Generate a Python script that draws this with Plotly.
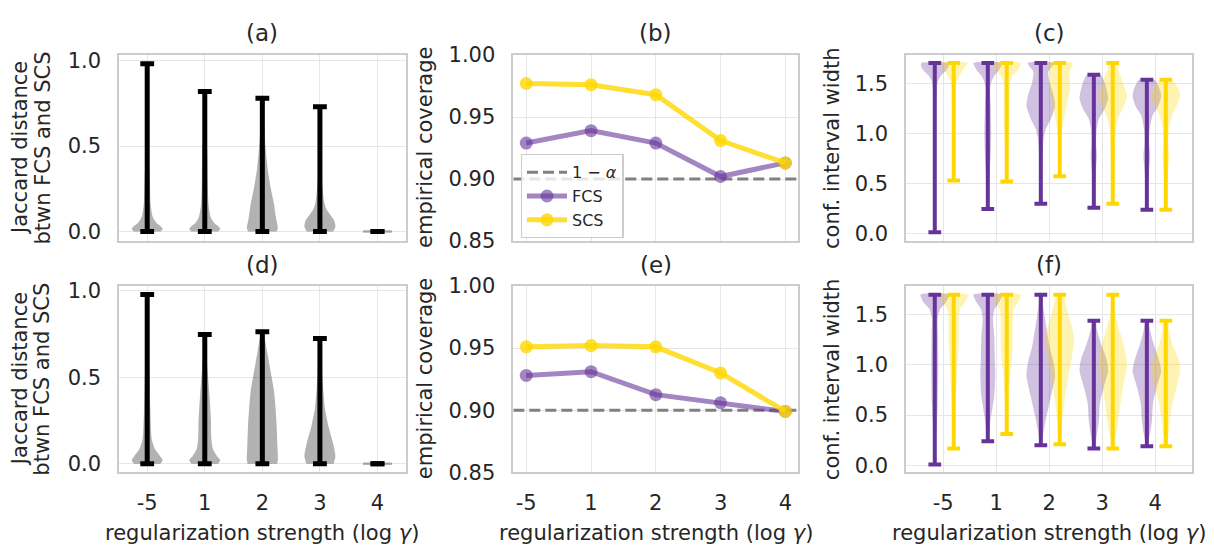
import plotly.graph_objects as go

# ---------------- data ----------------
gamma_labels = ["-5", "1", "2", "3", "4"]
positions = [0, 1, 2, 3, 4]
alpha_level = 0.9

# (b) / (e) empirical coverage
cov_fcs_top = [0.929, 0.939, 0.929, 0.902, 0.913]
cov_scs_top = [0.977, 0.976, 0.968, 0.931, 0.913]
cov_fcs_bot = [0.928, 0.931, 0.9125, 0.906, 0.899]
cov_scs_bot = [0.951, 0.952, 0.951, 0.930, 0.899]

# (a) / (d) Jaccard distance extrema
jac_top_min = [0.0, 0.0, 0.0, 0.0, 0.0]
jac_top_max = [0.982, 0.820, 0.780, 0.731, 0.0]
jac_bot_min = [0.0, 0.0, 0.0, 0.0, 0.0]
jac_bot_max = [0.977, 0.746, 0.762, 0.723, 0.0]

# (a) / (d) density profiles (levels, relative half width)
jac_top_levels = [
    [0, 0.015, 0.03, 0.05, 0.085, 0.16, 0.3, 0.45, 0.7, 0.982],
    [0, 0.015, 0.03, 0.05, 0.085, 0.16, 0.3, 0.45, 0.6, 0.82],
    [0, 0.02, 0.08, 0.16, 0.25, 0.36, 0.5, 0.63, 0.78],
    [0, 0.03, 0.065, 0.1, 0.13, 0.17, 0.25, 0.35, 0.5, 0.731],
    [0],
]
jac_top_widths = [
    [0.85, 1.0, 0.88, 0.6, 0.36, 0.22, 0.17, 0.1, 0.04, 0.0],
    [0.85, 1.0, 0.88, 0.6, 0.38, 0.24, 0.19, 0.17, 0.08, 0.0],
    [0.92, 1.0, 0.88, 0.75, 0.55, 0.35, 0.2, 0.1, 0.02],
    [0.85, 1.0, 0.92, 0.65, 0.42, 0.28, 0.18, 0.1, 0.04, 0.0],
    [1.0],
]
jac_bot_levels = [
    [0, 0.02, 0.045, 0.085, 0.14, 0.32, 0.5, 0.65, 0.8, 0.977],
    [0, 0.02, 0.045, 0.085, 0.15, 0.25, 0.4, 0.55, 0.65, 0.746],
    [0, 0.025, 0.1, 0.22, 0.32, 0.42, 0.5, 0.57, 0.65, 0.762],
    [0, 0.045, 0.125, 0.22, 0.32, 0.42, 0.51, 0.61, 0.723],
    [0],
]
jac_bot_widths = [
    [0.85, 1.0, 0.82, 0.5, 0.3, 0.2, 0.15, 0.08, 0.03, 0.0],
    [0.85, 1.0, 0.78, 0.52, 0.42, 0.4, 0.3, 0.17, 0.08, 0.0],
    [0.95, 1.0, 0.97, 0.92, 0.85, 0.75, 0.6, 0.46, 0.3, 0.05],
    [0.88, 1.0, 0.83, 0.54, 0.32, 0.22, 0.15, 0.08, 0.0],
    [1.0],
]

# (c) / (f) confidence interval width extrema
wid_fcs_top_min = [0.017, 0.25, 0.303, 0.263, 0.243]
wid_fcs_top_max = [1.707, 1.707, 1.707, 1.59, 1.54]
wid_scs_top_min = [0.533, 0.523, 0.577, 0.303, 0.243]
wid_scs_top_max = [1.707, 1.707, 1.707, 1.707, 1.54]
wid_fcs_bot_min = [0.007, 0.24, 0.20, 0.167, 0.19]
wid_fcs_bot_max = [1.70, 1.70, 1.70, 1.44, 1.44]
wid_scs_bot_min = [0.167, 0.313, 0.21, 0.167, 0.19]
wid_scs_bot_max = [1.70, 1.70, 1.70, 1.70, 1.44]

# (c) / (f) density profiles
wid_fcs_top_levels = [
    [0.017, 0.5, 1.0, 1.3, 1.45, 1.52, 1.58, 1.63, 1.67, 1.707],
    [0.25, 0.5, 0.78, 1.0, 1.28, 1.45, 1.52, 1.58, 1.63, 1.707],
    [0.303, 0.6, 0.95, 1.05, 1.15, 1.28, 1.38, 1.52, 1.62, 1.707],
    [0.263, 0.5, 0.65, 0.78, 0.92, 1.05, 1.15, 1.25, 1.35, 1.48, 1.59],
    [0.243, 0.45, 0.62, 0.78, 0.92, 1.05, 1.18, 1.28, 1.38, 1.45, 1.54],
]
wid_fcs_top_widths = [
    [0.0, 0.05, 0.08, 0.1, 0.14, 0.2, 0.42, 0.77, 0.95, 0.95],
    [0.0, 0.08, 0.2, 0.24, 0.2, 0.16, 0.25, 0.45, 0.75, 1.0],
    [0.0, 0.08, 0.19, 0.36, 0.71, 1.0, 0.9, 0.6, 0.52, 0.93],
    [0.0, 0.08, 0.15, 0.22, 0.15, 0.2, 0.36, 0.76, 1.0, 0.83, 0.48],
    [0.0, 0.08, 0.15, 0.24, 0.16, 0.2, 0.39, 0.8, 1.0, 0.89, 0.54],
]
wid_scs_top_levels = [
    [0.533, 0.8, 1.2, 1.45, 1.52, 1.58, 1.65, 1.707],
    [0.523, 0.8, 0.95, 1.2, 1.45, 1.52, 1.58, 1.63, 1.707],
    [0.577, 0.8, 0.98, 1.12, 1.28, 1.45, 1.55, 1.62, 1.707],
    [0.303, 0.55, 0.78, 1.02, 1.15, 1.28, 1.38, 1.48, 1.58, 1.65, 1.707],
    [0.243, 0.45, 0.62, 0.78, 0.92, 1.05, 1.18, 1.28, 1.38, 1.45, 1.54],
]
wid_scs_top_widths = [
    [0.0, 0.05, 0.1, 0.15, 0.22, 0.42, 0.7, 1.0],
    [0.0, 0.08, 0.15, 0.22, 0.2, 0.25, 0.4, 0.75, 1.0],
    [0.0, 0.06, 0.12, 0.26, 0.48, 0.71, 0.68, 0.71, 0.9],
    [0.0, 0.08, 0.15, 0.2, 0.36, 0.77, 1.0, 0.77, 0.54, 0.35, 0.24],
    [0.0, 0.08, 0.15, 0.24, 0.17, 0.22, 0.42, 0.77, 1.0, 0.89, 0.42],
]
wid_fcs_bot_levels = [
    [0.007, 0.3, 0.6, 1.0, 1.3, 1.46, 1.56, 1.62, 1.70],
    [0.24, 0.46, 0.69, 0.89, 1.1, 1.29, 1.46, 1.56, 1.62, 1.70],
    [0.2, 0.36, 0.49, 0.69, 0.89, 1.02, 1.19, 1.46, 1.6, 1.70],
    [0.167, 0.29, 0.46, 0.62, 0.79, 0.94, 1.06, 1.22, 1.35, 1.44],
    [0.19, 0.3, 0.46, 0.62, 0.79, 0.94, 1.06, 1.22, 1.35, 1.44],
]
wid_fcs_bot_widths = [
    [0.0, 0.1, 0.2, 0.24, 0.22, 0.2, 0.38, 0.77, 1.0],
    [0.0, 0.2, 0.45, 0.52, 0.48, 0.45, 0.36, 0.48, 0.77, 1.0],
    [0.0, 0.22, 0.4, 0.71, 1.0, 0.9, 0.6, 0.29, 0.15, 0.1],
    [0.0, 0.2, 0.36, 0.43, 0.71, 1.0, 0.89, 0.48, 0.22, 0.12],
    [0.0, 0.2, 0.36, 0.43, 0.71, 1.0, 0.83, 0.45, 0.22, 0.12],
]
wid_scs_bot_levels = [
    [0.167, 0.4, 0.62, 0.96, 1.12, 1.3, 1.46, 1.56, 1.62, 1.70],
    [0.313, 0.62, 0.96, 1.12, 1.3, 1.46, 1.56, 1.62, 1.70],
    [0.21, 0.39, 0.62, 0.86, 1.06, 1.26, 1.39, 1.52, 1.62, 1.70],
    [0.167, 0.29, 0.46, 0.66, 0.82, 0.99, 1.12, 1.29, 1.46, 1.6, 1.70],
    [0.19, 0.3, 0.46, 0.62, 0.79, 0.94, 1.06, 1.22, 1.35, 1.44],
]
wid_scs_bot_widths = [
    [0.0, 0.08, 0.15, 0.24, 0.32, 0.36, 0.36, 0.45, 0.77, 1.0],
    [0.0, 0.12, 0.28, 0.4, 0.42, 0.42, 0.5, 0.77, 1.0],
    [0.0, 0.15, 0.32, 0.56, 0.83, 1.0, 0.83, 0.56, 0.38, 0.26],
    [0.0, 0.2, 0.4, 0.58, 0.77, 1.0, 0.89, 0.58, 0.24, 0.12, 0.08],
    [0.0, 0.18, 0.3, 0.48, 0.77, 1.0, 0.89, 0.42, 0.25, 0.15],
]

# ---------------- style ----------------
PAGE_W, PAGE_H = 1214, 546
PAGE_MARGIN = 8            # default body margin of the html page
W, H = PAGE_W - PAGE_MARGIN, PAGE_H - PAGE_MARGIN
FONT = "DejaVu Sans"
TXT = "#262626"
GRID = "#e6e6e6"
EDGE = "#cccccc"
PURPLE = "rgb(102,51,153)"
GOLD = "rgb(255,215,0)"
PURPLE_BODY = "rgba(102,51,153,0.3)"
GOLD_BODY = "rgba(255,215,0,0.3)"
GRAY_BODY = "rgba(0,0,0,0.3)"
PURPLE_LINE = "rgba(102,51,153,0.6)"
GOLD_LINE = "rgba(255,215,0,0.8)"
HALF_W = 0.27
CAP = 0.12
OFF_FCS = -0.157
OFF_SCS = 0.2


def px_x(v):
    return (v - PAGE_MARGIN) / W


def px_y(v):
    return 1 - (v - PAGE_MARGIN) / H


# panel pixel boxes in page pixels (left, right) and (top, bottom)
cols = [(119, 405.7), (513.3, 798.3), (906, 1192.3)]
rows = [(55, 241), (286, 472.3)]

range_jac_top = [-0.055, 1.033]
range_jac_bot = [-0.049, 1.026]
range_cov = [0.85, 1.0]
range_wid = [-0.07, 1.787]
xr_jac = [-0.49, 4.49]
xr_cov = [-0.2, 4.2]
xr_wid = [-0.7, 4.7]

fig = go.Figure()


def ax_names(idx):
    s = "" if idx == 1 else str(idx)
    return "x" + s, "y" + s


def add_body(idx, pos, levels, widths, color):
    xa, ya = ax_names(idx)
    if len(levels) == 1:
        fig.add_trace(go.Scatter(
            x=[pos - HALF_W * widths[0] * 0.93, pos + HALF_W * widths[0] * 0.93],
            y=[levels[0], levels[0]], mode="lines",
            line=dict(color=color, width=2.5), hoverinfo="skip",
            showlegend=False, xaxis=xa, yaxis=ya))
        return
    xs = [pos + HALF_W * w for w in widths] + [pos - HALF_W * w for w in reversed(widths)]
    ys = list(levels) + list(reversed(levels))
    fig.add_trace(go.Scatter(
        x=xs, y=ys, mode="lines", fill="toself", fillcolor=color,
        line=dict(width=0, shape="spline", smoothing=0.6, color=color),
        hoverinfo="skip", showlegend=False, xaxis=xa, yaxis=ya))


def add_bars(idx, pos_list, lo, hi, color, width):
    xa, ya = ax_names(idx)
    xs, ys = [], []
    for p, a, b in zip(pos_list, lo, hi):
        xs += [p, p, None, p - CAP, p + CAP, None, p - CAP, p + CAP, None]
        ys += [a, b, None, b, b, None, a, a, None]
    fig.add_trace(go.Scatter(x=xs, y=ys, mode="lines",
                             line=dict(color=color, width=width),
                             hoverinfo="skip", showlegend=False,
                             xaxis=xa, yaxis=ya))


# ---- (a), (d)
for idx, lv, wd, lo, hi in [(1, jac_top_levels, jac_top_widths, jac_top_min, jac_top_max),
                            (4, jac_bot_levels, jac_bot_widths, jac_bot_min, jac_bot_max)]:
    for p, l, w in zip(positions, lv, wd):
        add_body(idx, p, l, w, GRAY_BODY)
    add_bars(idx, positions, lo, hi, "black", 5)

# ---- (b), (e)
for idx, fcs, scs, show in [(2, cov_fcs_top, cov_scs_top, True), (5, cov_fcs_bot, cov_scs_bot, False)]:
    xa, ya = ax_names(idx)
    fig.add_trace(go.Scatter(x=[xr_cov[0], xr_cov[1]], y=[alpha_level, alpha_level],
                             mode="lines", name="1 \u2212 <i>\u03b1</i>",
                             line=dict(color="#808080", width=3, dash="11px,5px"),
                             showlegend=show, xaxis=xa, yaxis=ya))
    fig.add_trace(go.Scatter(x=positions, y=fcs, mode="lines+markers", name="FCS",
                             line=dict(color=PURPLE_LINE, width=5),
                             marker=dict(color=PURPLE_LINE, size=13),
                             showlegend=show, xaxis=xa, yaxis=ya))
    fig.add_trace(go.Scatter(x=positions, y=scs, mode="lines+markers", name="SCS",
                             line=dict(color=GOLD_LINE, width=5),
                             marker=dict(color=GOLD_LINE, size=13),
                             showlegend=show, xaxis=xa, yaxis=ya))

# ---- (c), (f)
for idx, fl, fw, sl, sw, fmin, fmax, smin, smax in [
        (3, wid_fcs_top_levels, wid_fcs_top_widths, wid_scs_top_levels, wid_scs_top_widths,
         wid_fcs_top_min, wid_fcs_top_max, wid_scs_top_min, wid_scs_top_max),
        (6, wid_fcs_bot_levels, wid_fcs_bot_widths, wid_scs_bot_levels, wid_scs_bot_widths,
         wid_fcs_bot_min, wid_fcs_bot_max, wid_scs_bot_min, wid_scs_bot_max)]:
    pf = [p + OFF_FCS for p in positions]
    ps = [p + OFF_SCS for p in positions]
    for p, l, w in zip(pf, fl, fw):
        add_body(idx, p, l, w, PURPLE_BODY)
    for p, l, w in zip(ps, sl, sw):
        add_body(idx, p, l, w, GOLD_BODY)
    add_bars(idx, pf, fmin, fmax, PURPLE, 4)
    add_bars(idx, ps, smin, smax, GOLD, 4)

# ---------------- layout ----------------
axis_common = dict(showgrid=True, gridcolor=GRID, gridwidth=1.3, zeroline=False,
                   showline=True, mirror=True, linecolor=EDGE, linewidth=1.5,
                   ticks="", automargin=False,
                   tickfont=dict(size=21, color=TXT, family=FONT))

layout = dict(width=W, height=H, autosize=False,
              margin=dict(l=0, r=0, t=0, b=0, pad=0, autoexpand=False),
              template="none",
              paper_bgcolor="white", plot_bgcolor="white",
              font=dict(family=FONT, color=TXT, size=21),
              showlegend=True,
              legend=dict(x=px_x(520.7), y=px_y(154), xanchor="left", yanchor="top",
                          bgcolor="rgba(255,255,255,0.8)", bordercolor=EDGE, borderwidth=1.3,
                          font=dict(size=16, color=TXT, family=FONT),
                          tracegroupgap=0, itemwidth=40))

xranges = [xr_jac, xr_cov, xr_wid]
yranges = [[range_jac_top, range_cov, range_wid], [range_jac_bot, range_cov, range_wid]]
ytickvals = [[0, 0.5, 1.0], [0.85, 0.9, 0.95, 1.0], [0, 0.5, 1.0, 1.5]]
ytickfmt = [".1f", ".2f", ".1f"]

for r, (top, bot) in enumerate(rows):
    for c, (left, right) in enumerate(cols):
        idx = r * 3 + c + 1
        s = "" if idx == 1 else str(idx)
        layout["xaxis" + s] = dict(axis_common, domain=[px_x(left), px_x(right)],
                                   range=xranges[c], anchor="y" + s,
                                   tickvals=positions, ticktext=gamma_labels,
                                   showticklabels=(r == 1), ticklabelstandoff=11)
        layout["yaxis" + s] = dict(axis_common, domain=[px_y(bot), px_y(top)],
                                   range=yranges[r][c], anchor="x" + s,
                                   tickvals=ytickvals[c], tickformat=ytickfmt[c],
                                   ticklabelstandoff=12)

annotations = []
titles = [["(a)", "(b)", "(c)"], ["(d)", "(e)", "(f)"]]
title_y = [32.5, 265]
for r in range(2):
    for c, (left, right) in enumerate(cols):
        cx = px_x((left + right) / 2)
        annotations.append(dict(text=titles[r][c], x=cx, y=px_y(title_y[r]),
                                xref="paper", yref="paper", showarrow=False,
                                xanchor="center", yanchor="middle",
                                font=dict(size=23, color=TXT, family=FONT)))
        if r == 1:
            annotations.append(dict(text="regularization strength (log <i>\u03b3</i>)",
                                    x=cx, y=px_y(533), xref="paper", yref="paper",
                                    showarrow=False, xanchor="center", yanchor="middle",
                                    font=dict(size=21, color=TXT, family=FONT)))
    top, bot = rows[r]
    cy = px_y((top + bot) / 2)
    for txt, xpx in [("Jaccard distance", 20), ("btwn FCS and SCS", 42.5),
                     ("empirical coverage", 425), ("conf. interval width", 832)]:
        annotations.append(dict(text=txt, x=px_x(xpx), y=cy, xref="paper", yref="paper",
                                showarrow=False, textangle=-90, xanchor="center",
                                yanchor="middle",
                                font=dict(size=21, color=TXT, family=FONT)))

layout["annotations"] = annotations
fig.update_layout(**layout)
fig.write_html("out.html")
